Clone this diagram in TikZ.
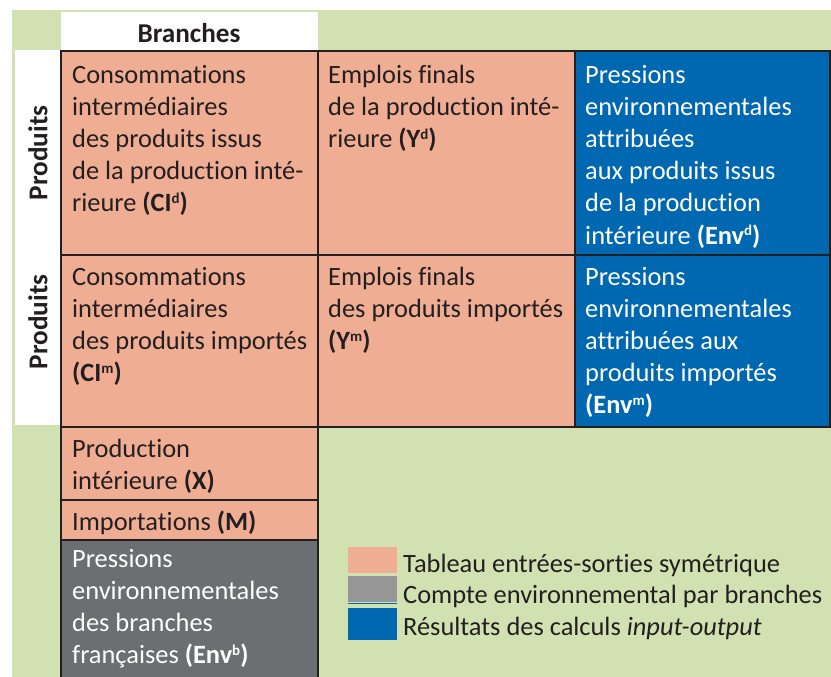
\documentclass[tikz,border=0pt]{standalone}
\usepackage{fontspec}
\setmainfont[Ligatures={NoCommon,NoRare}]{Carlito}
\usepackage{xcolor}
\definecolor{saumon}{HTML}{EFAD94}
\definecolor{bleu}{HTML}{0067B1}
\definecolor{gris}{HTML}{6D6E71}
\definecolor{grisclair}{HTML}{969696}
\definecolor{vert}{HTML}{D2E1B1}
\definecolor{trait}{HTML}{231F20}
\newcommand{\expo}[1]{\raisebox{0.32em}{\fontsize{15}{15}\selectfont #1}}
\tikzset{
  cell/.style={draw=trait, line width=2bp, anchor=north west, inner sep=0, outer sep=0},
  txt/.style={anchor=north west, align=left, inner sep=0, text=trait,
    font=\fontsize{26.5}{32.3}\selectfont},
  head/.style={inner sep=0, text=trait, font=\fontsize{27.3}{30}\selectfont\bfseries},
  legbox/.style={anchor=north west, inner sep=0, outer sep=0, minimum width=49bp},
}
\begin{document}
\begin{tikzpicture}[x=1bp, y=-1bp]
\clip (0,0) rectangle (831,677);
\useasboundingbox (0,0) rectangle (831,677);
% Background
\fill[vert] (12,10) rectangle (831,680);
\fill[white] (61,12) rectangle (318,51);
\fill[white] (15,50) rectangle (61,425);
\node[head, anchor=base] (branches) at (189,43) {Branches};
\node[head, rotate=90] (prod1) at (38,153) {Produits};
\node[head, rotate=90] (prod2) at (38,322) {Produits};
% Row 1
\node[cell, fill=saumon, minimum width=257bp, minimum height=204bp] (cid) at (61,51) {};
\node[cell, fill=saumon, minimum width=257bp, minimum height=204bp] (yd) at (318,51) {};
\node[cell, fill=bleu, minimum width=255bp, minimum height=204bp] (envd) at (575,51) {};
% Row 2
\node[cell, fill=saumon, minimum width=257bp, minimum height=172bp] (cim) at (61,255) {};
\node[cell, fill=saumon, minimum width=257bp, minimum height=172bp] (ym) at (318,255) {};
\node[cell, fill=bleu, minimum width=255bp, minimum height=172bp] (envm) at (575,255) {};
% Bottom rows
\node[cell, fill=saumon, minimum width=257bp, minimum height=73bp] (x) at (61,427) {};
\node[cell, fill=saumon, minimum width=257bp, minimum height=40bp] (m) at (61,500) {};
\node[cell, fill=gris, minimum width=257bp, minimum height=145bp] (envb) at (61,540) {};
% Cell texts
\node[txt] (tcid) at ([shift={(11,9.4)}]cid.north west) {\strut Consommations\\intermédiaires\\des produits issus\\de la production inté-\\rieure \textbf{(CI\expo{d})}};
\node[txt] (tyd) at ([shift={(10,9.4)}]yd.north west) {\strut Emplois finals\\de la production inté-\\rieure \textbf{(Y\expo{d})}};
\node[txt, text=white] (tenvd) at ([shift={(10,9.4)}]envd.north west) {\strut Pressions\\environnementales\\attribuées\\aux produits issus\\de la production\\intérieure \textbf{(Env\expo{d})}};
\node[txt] (tcim) at ([shift={(11,7.4)}]cim.north west) {\strut Consommations\\intermédiaires\\des produits importés\\\textbf{(CI\expo{m})}};
\node[txt] (tym) at ([shift={(10,7.4)}]ym.north west) {\strut Emplois finals\\des produits importés\\\textbf{(Y\expo{m})}};
\node[txt, text=white] (tenvm) at ([shift={(10,7.4)}]envm.north west) {\strut Pressions\\environnementales\\attribuées aux\\produits importés\\\textbf{(Env\expo{m})}};
\node[txt] (tx) at ([shift={(11,7.4)}]x.north west) {\strut Production\\intérieure \textbf{(X)}};
\node[txt] (tm) at ([shift={(11,7.4)}]m.north west) {\strut Importations \textbf{(M)}};
\node[txt, text=white] (tenvb) at ([shift={(11,4.4)}]envb.north west) {\strut Pressions\\environnementales\\des branches\\françaises \textbf{(Env\expo{b})}};
% Legend
\node[legbox, fill=saumon, minimum height=26bp] (leg1) at (348,547) {};
\node[legbox, fill=grisclair, minimum height=26bp] (leg2) at (348,576) {};
\node[legbox, fill=bleu, minimum height=32bp] (leg3) at (348,608) {};
\draw[bleu, line width=1.5bp] (leg2.south west) ++(0,1.5) -- ++(49,0);
\node[txt, anchor=base west] (l1) at (403,572) {Tableau entrées-sorties symétrique};
\node[txt, anchor=base west] (l2) at (403,603) {Compte environnemental par branches};
\node[txt, anchor=base west] (l3) at (403,635) {Résultats des calculs \textit{input-output}};
\end{tikzpicture}
\end{document}
